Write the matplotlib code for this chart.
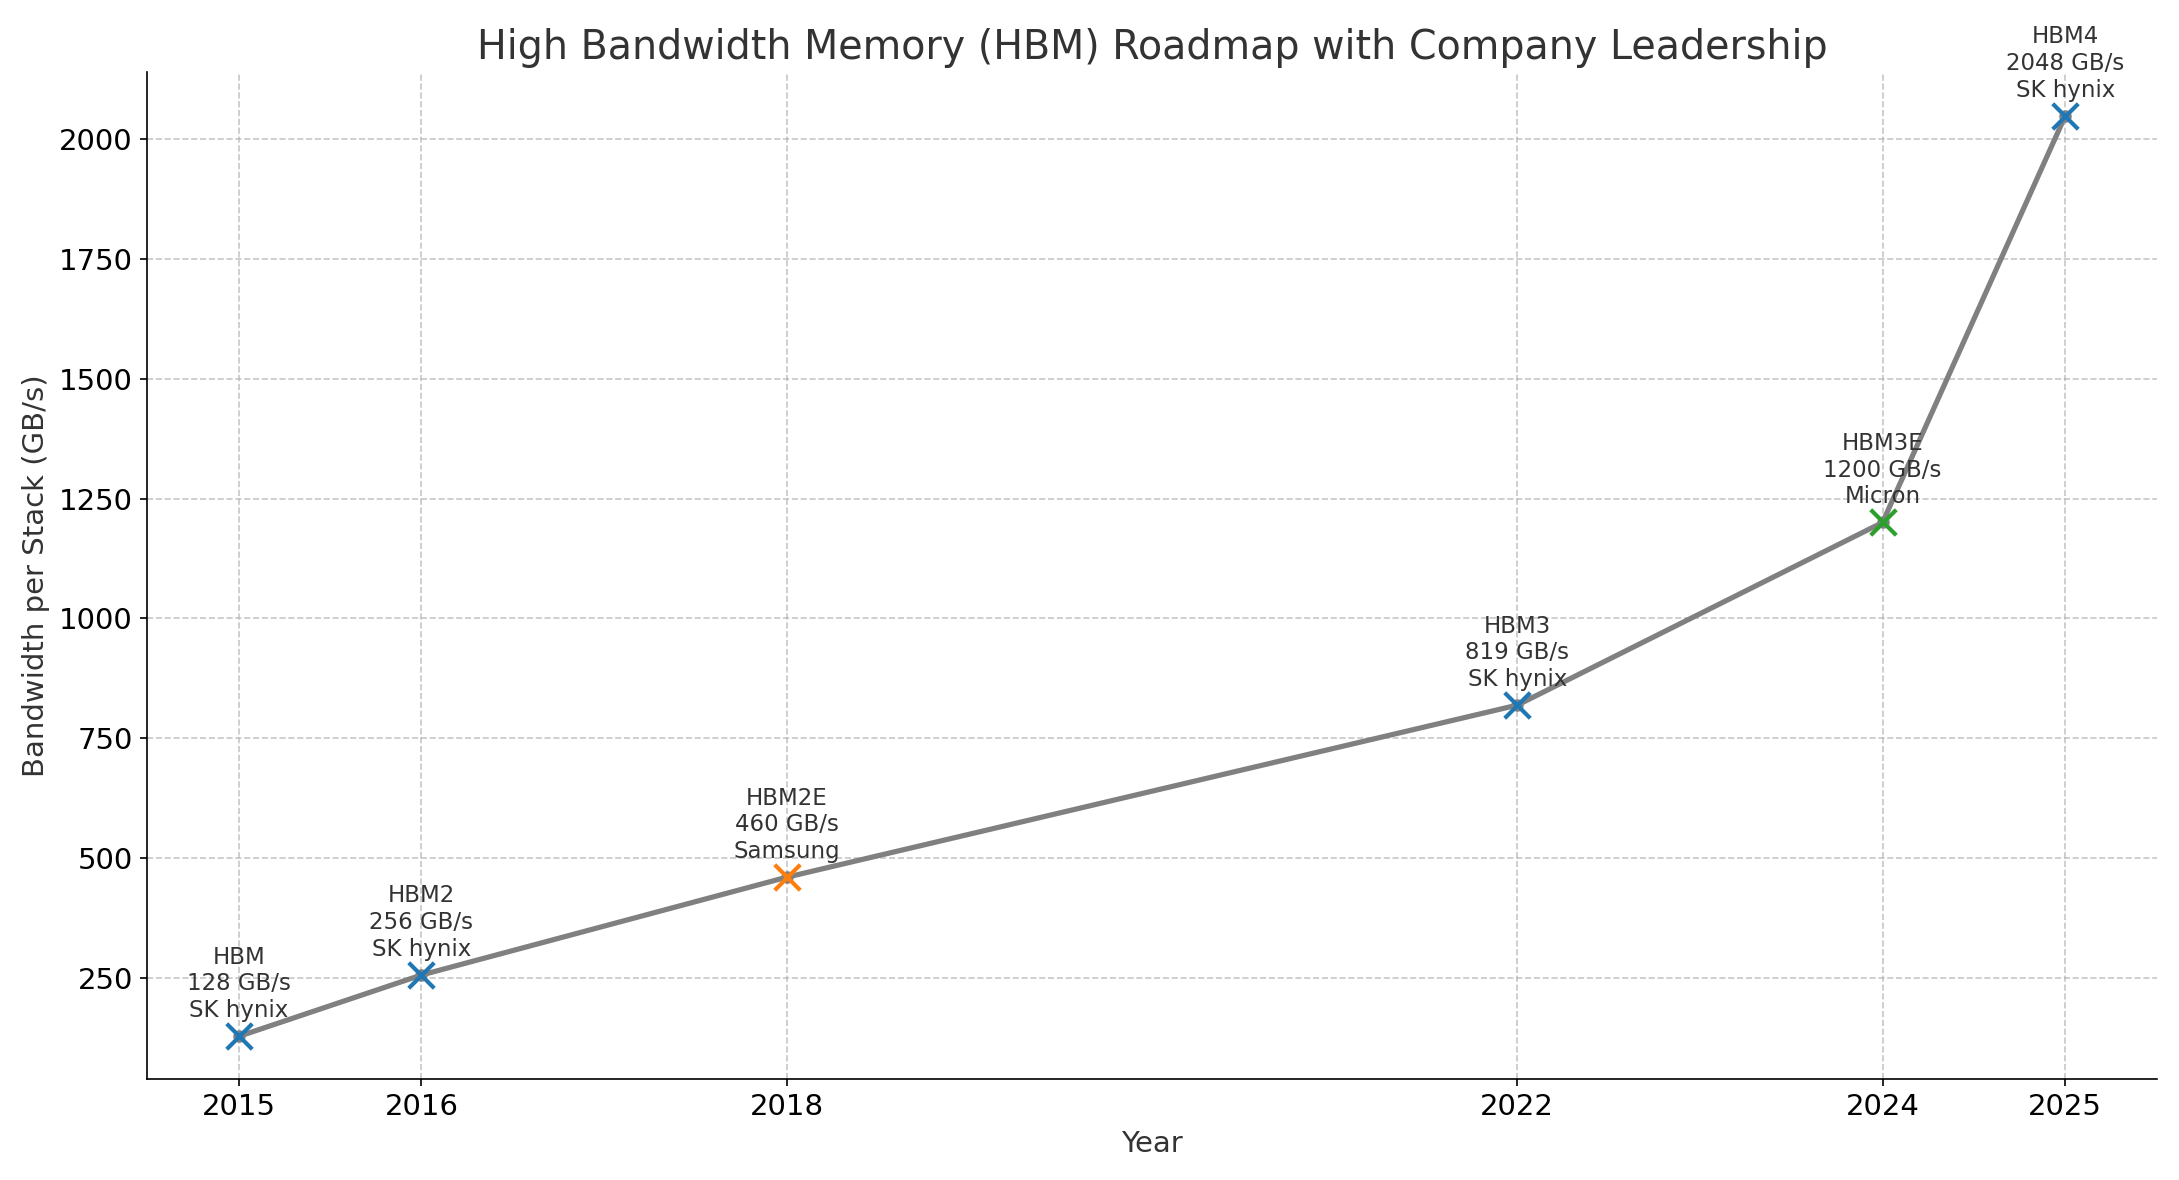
import matplotlib
matplotlib.use("Agg")
import matplotlib.pyplot as plt

years = [2015, 2016, 2018, 2022, 2024, 2025]
bandwidth = [128, 256, 460, 819, 1200, 2048]
generations = ['HBM', 'HBM2', 'HBM2E', 'HBM3', 'HBM3E', 'HBM4']
leaders = ['SK hynix', 'SK hynix', 'Samsung', 'SK hynix', 'Micron', 'SK hynix']
company_colors = {'SK hynix': '#1f77b4', 'Samsung': '#ff7f0e', 'Micron': '#2ca02c'}

fig, ax = plt.subplots(figsize=(2179 / 150, 1180 / 150), dpi=150)
ax.plot(years, bandwidth, color='gray', linewidth=2.5, marker='o', markersize=5, zorder=2)
for x, y, g, c in zip(years, bandwidth, generations, leaders):
    ax.scatter(x, y, marker='x', s=150, linewidths=2, color=company_colors[c], zorder=3)
    ax.text(x, y + 30, f"{g}\n{y} GB/s\n{c}", ha='center', va='bottom', fontsize=11, color='#333333')

ax.set_xticks(years)
ax.set_xlim(2014.5, 2025.5)
ax.set_ylim(40, 2140)
ax.set_yticks([250, 500, 750, 1000, 1250, 1500, 1750, 2000])
ax.tick_params(labelsize=14)
ax.set_title('High Bandwidth Memory (HBM) Roadmap with Company Leadership', fontsize=19, color='#333333')
ax.set_xlabel('Year', fontsize=14, color='#333333')
ax.set_ylabel('Bandwidth per Stack (GB/s)', fontsize=14, color='#333333')
ax.grid(True, linestyle='--', alpha=0.7)
ax.spines['top'].set_visible(False)
ax.spines['right'].set_visible(False)
fig.tight_layout()
fig.savefig('out.png', dpi=150)
